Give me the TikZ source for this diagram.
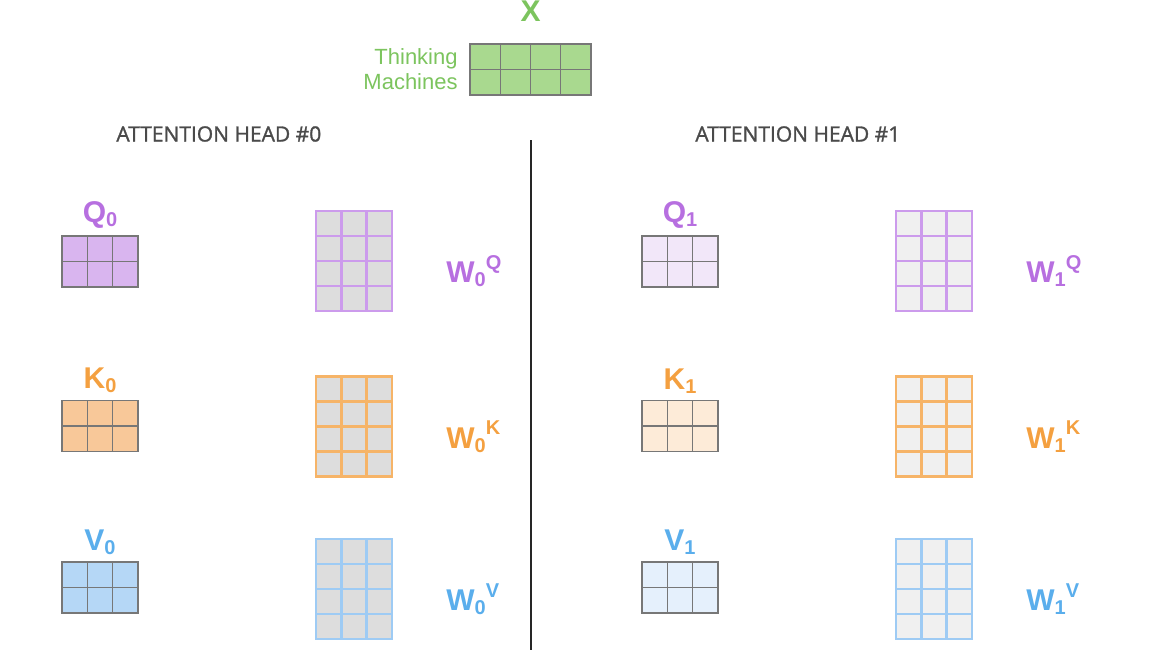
\documentclass[tikz,border=0pt]{standalone}
\usepackage{fontspec}
\setmainfont{Liberation Sans}
\newfontfamily\headfont[FakeBold=1.3]{Open Sans}
\usetikzlibrary{positioning,calc}
\definecolor{tmgreen}{HTML}{7CC45E}
\definecolor{tmgreenfill}{HTML}{A9D98F}
\definecolor{tmpurple}{HTML}{B76FE0}
\definecolor{tmorange}{HTML}{F4A040}
\definecolor{tmblue}{HTML}{5AAEEC}
\definecolor{qfill0}{HTML}{D9B5EF}
\definecolor{qfill1}{HTML}{F2E7F9}
\definecolor{kfill0}{HTML}{F8C899}
\definecolor{kfill1}{HTML}{FDEBD8}
\definecolor{vfill0}{HTML}{B5D7F6}
\definecolor{vfill1}{HTML}{E5F0FC}
\definecolor{qline}{HTML}{CC9BEC}
\definecolor{kline}{HTML}{F6B468}
\definecolor{vline}{HTML}{9ECBF4}
\definecolor{wfill0}{HTML}{DDDDDD}
\definecolor{wfill1}{HTML}{F0F0F0}
\definecolor{tmdark}{HTML}{555555}
\definecolor{tmhead}{HTML}{4A4A4A}
\tikzset{
  smallmat/.style={draw=tmdark!80,line width=0.6pt,minimum width=38pt,minimum height=25.5pt,inner sep=0pt,outer sep=0pt},
  wmat/.style={line width=1.4pt,minimum width=38pt,minimum height=50pt,inner sep=0pt,outer sep=0pt},
  cellline/.style={draw=tmdark!80,line width=0.6pt},
  wline/.style={line width=1.4pt},
  mlabel/.style={font=\fontsize{15}{17}\selectfont\bfseries,inner sep=0pt},
  headlab/.style={font=\headfont\fontsize{10.5}{12}\selectfont,text=tmhead,anchor=west,inner sep=0pt},
  divider/.style={draw=black!85,line width=1pt},
}
% sub- and superscripts of the labels
\newcommand{\lsub}[1]{\raisebox{-0.25ex}{\fontsize{10}{10}\selectfont #1}}
\newcommand{\lsup}[1]{\raisebox{0.85ex}{\fontsize{10}{10}\selectfont #1}}
% inner grid lines of a matrix node
\newcommand{\cells}[4]{%
  \foreach \f in {#2} \draw[#4] ($(#1.north west)!\f!(#1.north east)$) -- ($(#1.south west)!\f!(#1.south east)$);
  \foreach \f in {#3} \draw[#4] ($(#1.north west)!\f!(#1.south west)$) -- ($(#1.north east)!\f!(#1.south east)$);
}
\begin{document}
\begin{tikzpicture}[x=0.5pt,y=-0.5pt]
  \useasboundingbox (0,0) rectangle (1176,650);
  % input X
  \node[smallmat,minimum width=60.5pt,fill=tmgreenfill] (xin) at (530.5,69.5) {};
  \cells{xin}{0.25,0.5,0.75}{0.5}{cellline}
  \node[mlabel,font=\fontsize{15}{17}\selectfont\bfseries,text=tmgreen,above=11pt of xin] (xlab) {X};
  \node[font=\fontsize{11}{12.5}\selectfont,text=tmgreen,align=right,inner sep=0pt,left=6pt of xin] (words) {Thinking\\Machines};
  % heads
  \node[headlab] (head0) at (116,134) {ATTENTION HEAD \#0};
  \node[headlab] (head1) at (695,134) {ATTENTION HEAD \#1};
  \coordinate (divtop) at (531,140);
  \coordinate (divbot) at (531,650);
  \draw[divider] (divtop) -- (divbot);
  \foreach \h/\dx in {0/0,1/580} {
    \foreach \m/\y/\wy/\c/\s in {q/261.5/261/tmpurple/Q, k/426/426.5/tmorange/K, v/587.5/589/tmblue/V} {
      \node[smallmat,fill=\m fill\h] (\m\h) at (100+\dx,\y) {};
      \cells{\m\h}{0.3333,0.6667}{0.5}{cellline}
      \node[mlabel,text=\c,above=3.5pt of \m\h] (\m\h lab) {\s\lsub{\h}};
      \node[wmat,draw=\m line,fill=wfill\h] (w\m\h) at (354+\dx,\wy) {};
      \cells{w\m\h}{0.3333,0.6667}{0.25,0.5,0.75}{wline,draw=\m line}
      \node[mlabel,text=\c,right=27pt of w\m\h,yshift=-5pt] (w\m\h lab) {W\lsub{\h}\lsup{\s}};
    }
  }
\end{tikzpicture}
\end{document}
